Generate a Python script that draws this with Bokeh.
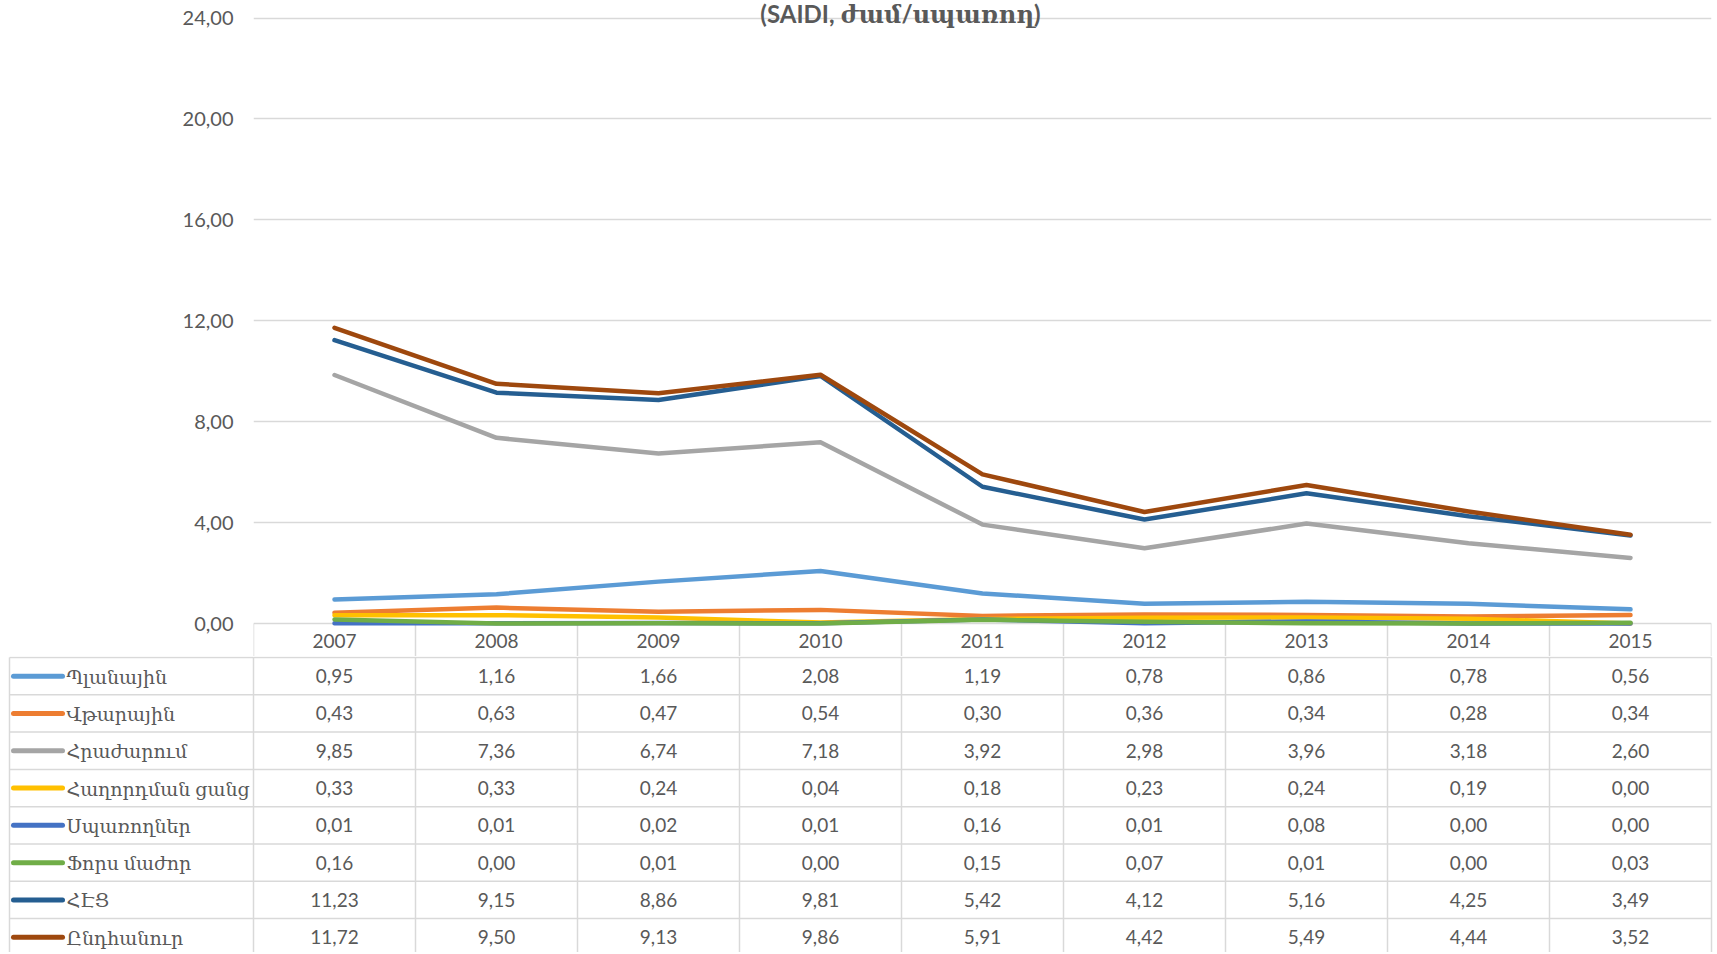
from bokeh.plotting import figure
from bokeh.models import Range1d, FixedTicker, ColumnDataSource
from bokeh.layouts import column
from bokeh.embed import file_html
from bokeh.resources import INLINE
from bokeh.core.properties import value

# ---------------- data ----------------
years = ["2007", "2008", "2009", "2010", "2011", "2012", "2013", "2014", "2015"]
names = ["Պլանային", "Վթարային", "Հրաժարում", "Հաղորդման ցանց",
         "Սպառողներ", "Ֆորս մաժոր", "ՀԷՑ", "Ընդհանուր"]
planned = [0.95, 1.16, 1.66, 2.08, 1.19, 0.78, 0.86, 0.78, 0.56]
emergency = [0.43, 0.63, 0.47, 0.54, 0.30, 0.36, 0.34, 0.28, 0.34]
refusal = [9.85, 7.36, 6.74, 7.18, 3.92, 2.98, 3.96, 3.18, 2.60]
transmission = [0.33, 0.33, 0.24, 0.04, 0.18, 0.23, 0.24, 0.19, 0.00]
consumers = [0.01, 0.01, 0.02, 0.01, 0.16, 0.01, 0.08, 0.00, 0.00]
force_majeure = [0.16, 0.00, 0.01, 0.00, 0.15, 0.07, 0.01, 0.00, 0.03]
distribution = [11.23, 9.15, 8.86, 9.81, 5.42, 4.12, 5.16, 4.25, 3.49]
total = [11.72, 9.50, 9.13, 9.86, 5.91, 4.42, 5.49, 4.44, 3.52]
y_ticks = [0, 4, 8, 12, 16, 20, 24]
title_text = "(SAIDI, ժամ/սպառող)"

series = [planned, emergency, refusal, transmission, consumers,
          force_majeure, distribution, total]
colors = ["#5B9BD5", "#ED7D31", "#A5A5A5", "#FFC000",
          "#4472C4", "#70AD47", "#255E91", "#9E480E"]

# ---------------- style / layout ----------------
FONT = "Lato, 'DejaVu Serif'"
TXT = "#595959"
GRID = "#D9D9D9"
W = 1714
TOTAL_H = 952
FRAME_L = 253          # left edge of plot area / data columns
FRAME_R = 1711         # right edge of plot area
Y24_PX = 17.5          # pixel row of top gridline
Y0_PX = 623.0          # pixel row of zero line
ROW0_PX = 656.0        # top of first table row
ROW_H = 37.3
n = len(years)
col_px = (FRAME_R - FRAME_L) / n
ppu = (Y0_PX - Y24_PX) / max(y_ticks)
CHART_H = int(ROW0_PX)
TABLE_H = TOTAL_H - CHART_H


def fmt(v):
    return f"{v:.2f}".replace(".", ",")


def px_to_x(px):
    return -0.5 + (px - FRAME_L) / col_px


# ---------------- chart (+ header row of the table) ----------------
xs = list(range(n))
y_low = -(ROW0_PX - Y0_PX) / ppu
p = figure(width=W, height=CHART_H, output_backend="svg", toolbar_location=None,
           x_range=Range1d(-0.5, n - 0.5),
           y_range=Range1d(y_low, max(y_ticks) + Y24_PX / ppu),
           x_axis_location=None, min_border_left=FRAME_L, min_border_right=W - FRAME_R,
           min_border_top=0, min_border_bottom=0)
p.frame_align = False
p.outline_line_color = None
p.background_fill_color = "white"
p.border_fill_color = "white"
p.xgrid.visible = False
p.ygrid.grid_line_color = GRID
p.ygrid.grid_line_width = 1.3
p.yaxis.ticker = FixedTicker(ticks=y_ticks)
p.yaxis.major_label_overrides = {t: fmt(t) for t in y_ticks}
p.yaxis.axis_line_color = None
p.yaxis.major_tick_line_color = None
p.yaxis.minor_tick_line_color = None
p.yaxis.major_label_standoff = 14
p.yaxis.major_label_text_font = FONT
p.yaxis.major_label_text_font_size = "20px"
p.yaxis.major_label_text_color = TXT

# header-row vertical borders
bx = [k - 0.5 for k in range(n + 1)]
p.segment(x0=bx, y0=[0] * len(bx), x1=bx, y1=[y_low] * len(bx),
          line_color=GRID, line_width=1.5)
# year header labels
p.text(x=xs, y=[-(640 - Y0_PX) / ppu] * n, text=years, text_font=value(FONT),
       text_font_size="19px", text_color=TXT, text_align="center", text_baseline="middle")

for vals, c in zip(series, colors):
    p.line(xs, vals, line_color=c, line_width=4.5, line_cap="round", line_join="round")

p.text(x=[px_to_x(900)], y=[max(y_ticks) + (Y24_PX - 13) / ppu], text=[title_text],
       text_font=value(FONT), text_font_size="24px", text_font_style="bold",
       text_color=TXT, text_align="center", text_baseline="middle")

# ---------------- data table ----------------
y_top = -0.5 - 1.0 / ROW_H
y_bot = y_top + TABLE_H / ROW_H
t = figure(width=W, height=TABLE_H, output_backend="svg", toolbar_location=None,
           x_range=Range1d(px_to_x(0), px_to_x(W)),
           y_range=Range1d(y_bot, y_top),
           x_axis_location=None, y_axis_location=None,
           min_border_left=0, min_border_right=0, min_border_top=0, min_border_bottom=0)
t.frame_align = False
t.outline_line_color = None
t.xgrid.visible = False
t.ygrid.visible = False
t.background_fill_color = "white"
t.border_fill_color = "white"

left_edge = px_to_x(9)
nrows = len(names)
hy = [r - 0.5 for r in range(nrows + 1)]
t.segment(x0=[left_edge] * len(hy), y0=hy, x1=[n - 0.5] * len(hy), y1=hy,
          line_color=GRID, line_width=1.5)
vx = [left_edge] + bx
t.segment(x0=vx, y0=[-0.5] * len(vx), x1=vx, y1=[y_bot] * len(vx),
          line_color=GRID, line_width=1.5)

rows = list(range(nrows))
t.segment(x0=[px_to_x(13)] * nrows, y0=rows, x1=[px_to_x(62)] * nrows, y1=rows,
          line_color=colors, line_width=5, line_cap="round")
t.text(x=[px_to_x(66)] * nrows, y=rows, text=names, text_font=value(FONT),
       text_font_size="19px", text_color=TXT, text_align="left", text_baseline="middle")

cx, cy, ct = [], [], []
for r, vals in enumerate(series):
    for i, v in enumerate(vals):
        cx.append(i)
        cy.append(r)
        ct.append(fmt(v))
src = ColumnDataSource(dict(x=cx, y=cy, t=ct))
t.text(x="x", y="y", text="t", source=src, text_font=value(FONT),
       text_font_size="19px", text_color=TXT, text_align="center", text_baseline="middle")

layout = column(p, t, spacing=0)
open("out.html", "w").write(file_html(layout, INLINE))
